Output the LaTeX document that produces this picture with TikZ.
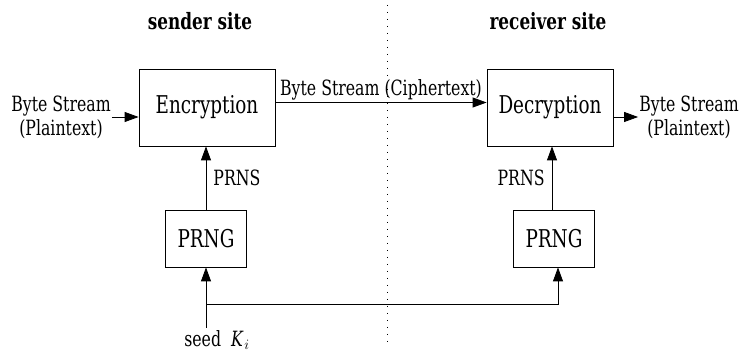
\documentclass[tikz,border=0pt]{standalone}
\usepackage{fontspec}
\setmainfont{DejaVu Serif}[FakeStretch=0.75]
\usetikzlibrary{arrows.meta}
\begin{document}
\begin{tikzpicture}[x=1pt,y=-1pt,
  box/.style={draw,line width=0.8pt,inner sep=0pt,font=\fontsize{24.5}{28}\selectfont},
  lbl/.style={font=\fontsize{21}{24}\selectfont,inner sep=1pt,align=center},
  ttl/.style={font=\bfseries\fontsize{22.5}{26}\selectfont},
  arr/.style={line width=0.8pt,-{Triangle[length=14pt,width=10pt]}},
  ln/.style={line width=0.8pt}]
\useasboundingbox (0,0) rectangle (740,352);
\node[ttl] (ts) at (200,21) {sender site};
\node[ttl] (tr) at (548,21) {receiver site};
\draw[line width=1pt,dash pattern=on 1pt off 6pt] (387,5) -- (387,345);
\node[box,minimum width=136pt,minimum height=77pt] (enc) at (207,107.5) {Encryption};
\node[box,minimum width=126pt,minimum height=77pt] (dec) at (550,107.5) {Decryption};
\node[box,minimum width=81pt,minimum height=57pt] (pl) at (206,238.5) {PRNG};
\node[box,minimum width=81pt,minimum height=57pt] (pr) at (554,238.5) {PRNG};
\node[lbl] (inL) at (61,117) {Byte Stream\\(Plaintext)};
\node[lbl] (outR) at (689,117) {Byte Stream\\(Plaintext)};
\draw[arr] (inL.east) -- (inL.east -| enc.west);
\draw[arr] (outR.west -| dec.east) -- (outR.west);
\draw[arr] ([yshift=5pt]enc.east) -- ([yshift=5pt]dec.west) node[lbl,midway,above=1pt] (cl) {Byte Stream (Ciphertext)};
\draw[arr] (pl.north) -- (pl.north |- enc.south) node[lbl,pos=0.5,right=6pt] (p1) {PRNS};
\draw[arr] ([xshift=-2pt]pr.north) -- ([xshift=-2pt]pr.north |- dec.south) node[lbl,pos=0.5,left=6pt] (p2) {PRNS};
\coordinate (seed) at (206,328);
\draw[arr] (seed) -- (pl.south);
\draw[arr] (seed |- 0,304) -| ([xshift=4pt]pr.south);
\node[lbl,anchor=north] (sd) at (217,329) {seed \ $\mathit{K}_{\!i}$};
\end{tikzpicture}
\end{document}
